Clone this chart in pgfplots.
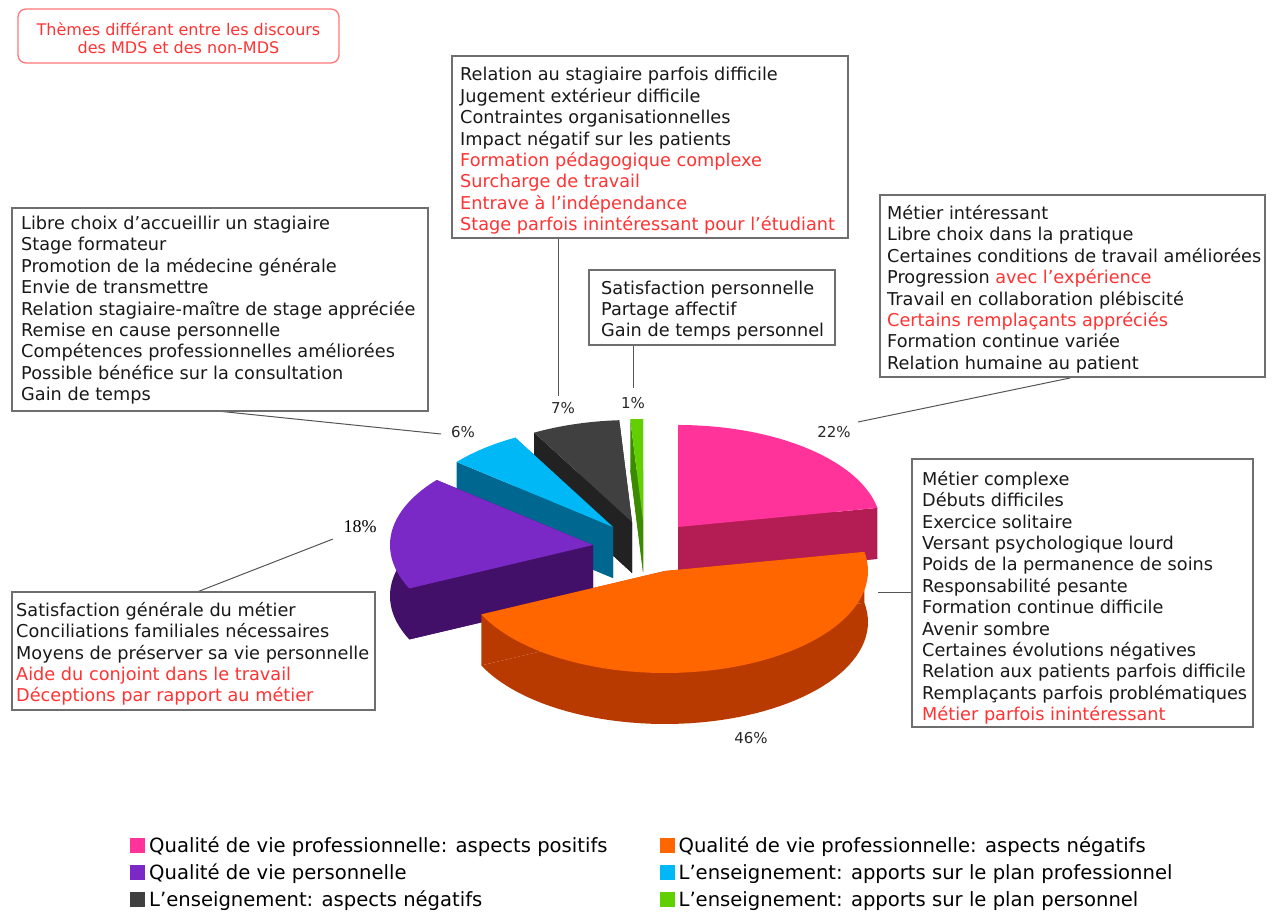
\documentclass[border=0pt]{standalone}
\usepackage{fontspec}
\setmainfont{DejaVu Sans}
\newfontfamily\seriffont{Liberation Serif}
\usepackage{pgfplots}
\pgfplotsset{compat=1.18}

\definecolor{pinkT}{HTML}{FF3399}
\definecolor{pinkS}{HTML}{B41C54}
\definecolor{orangeT}{HTML}{FF6600}
\definecolor{orangeS}{HTML}{B83A00}
\definecolor{purpleT}{HTML}{7A28C6}
\definecolor{purpleS}{HTML}{421068}
\definecolor{blueT}{HTML}{00B8F5}
\definecolor{blueS}{HTML}{006890}
\definecolor{greyT}{HTML}{404040}
\definecolor{greyS}{HTML}{222222}
\definecolor{greenT}{HTML}{62D000}
\definecolor{greenS}{HTML}{3C8A00}
\definecolor{redtxt}{HTML}{FF3333}
\definecolor{titlered}{HTML}{FF7777}
\definecolor{boxgray}{HTML}{6E6E6E}
\definecolor{leadgray}{HTML}{555555}

\tikzset{
  box/.style={draw=boxgray, line width=1.3pt, fill=white},
  txt/.style={anchor=north west, inner sep=0pt, align=left, text=black!90,
    font=\fontsize{17.7}{21.4}\selectfont},
  lead/.style={draw=leadgray, line width=1pt},
  pct/.style={font=\fontsize{15}{15}\selectfont, text=black!85},
}

% pie geometry (pt): radii of the ellipse and thickness
\def\pieR{203}
\def\pier{102}
\def\pieh{51}

% #1 percent, #2 cumulated percent before, #3,#4 apex, #5 top colour, #6 side colour
\newcommand\slice[6]{%
  \addplot[fill=#6, draw=none, forget plot, domain=0:1, samples=61, variable=\s]
    ({#3+\pieR*cos(90-3.6*(#2+#1*\s))}, {#4-\pieh+\pier*sin(90-3.6*(#2+#1*\s))})
    -- (axis cs:#3,{#4-\pieh}) -- cycle;
  \addplot[fill=#6, draw=none, forget plot, domain=0:1, samples=2, variable=\s]
    ({#3+\s*\pieR*cos(90-3.6*(#2))}, {#4+\s*\pier*sin(90-3.6*(#2))})
    -- (axis cs:{#3+\pieR*cos(90-3.6*(#2))},{#4-\pieh+\pier*sin(90-3.6*(#2))})
    -- (axis cs:#3,{#4-\pieh}) -- cycle;
  \addplot[fill=#6, draw=none, forget plot, domain=0:1, samples=2, variable=\s]
    ({#3+\s*\pieR*cos(90-3.6*(#2+#1))}, {#4+\s*\pier*sin(90-3.6*(#2+#1))})
    -- (axis cs:{#3+\pieR*cos(90-3.6*(#2+#1))},{#4-\pieh+\pier*sin(90-3.6*(#2+#1))})
    -- (axis cs:#3,{#4-\pieh}) -- cycle;
  \addplot[fill=#5, draw=none, forget plot, domain=0:1, samples=61, variable=\s]
    ({#3+\pieR*cos(90-3.6*(#2+#1*\s))}, {#4+\pier*sin(90-3.6*(#2+#1*\s))})
    -- (axis cs:#3,#4) -- cycle;
}
\newcommand\rl[1]{\textcolor{redtxt}{#1}}

\begin{document}
\begin{tikzpicture}
\begin{axis}[
  width=1274pt, height=911pt, scale only axis,
  xmin=0, xmax=1274, ymin=0, ymax=911,
  hide axis, clip=false,
  legend columns=2,
  legend cell align=left,
  legend image code/.code={\fill[#1] (0pt,-5.5pt) rectangle (15pt,9.5pt);},
  legend style={at={(axis cs:130,74)}, anchor=north west, draw=none, fill=none,
    inner sep=0pt, font=\fontsize{19.6}{23}\selectfont, row sep=7pt,
    nodes={inner sep=0pt, text height=15pt, text depth=5pt},
    /tikz/every odd column/.append style={column sep=4pt},
    /tikz/every even column/.append style={column sep=52pt}},
]
% slices, back to front: percent, cumulated percent, apex
\slice{1}{99}{643}{390}{greenT}{greenS}
\slice{7}{92}{632}{389}{greyT}{greyS}
\slice{6}{86}{613}{384}{blueT}{blueS}
\slice{22}{0}{678}{384}{pinkT}{pinkS}
\slice{18}{68}{593}{366}{purpleT}{purpleS}
\slice{46}{22}{665}{340}{orangeT}{orangeS}

\addlegendimage{fill=pinkT, draw=none}
\addlegendentry{Qualité de vie professionnelle: aspects positifs}
\addlegendimage{fill=orangeT, draw=none}
\addlegendentry{Qualité de vie professionnelle: aspects négatifs}
\addlegendimage{fill=purpleT, draw=none}
\addlegendentry{Qualité de vie personnelle}
\addlegendimage{fill=blueT, draw=none}
\addlegendentry{L'enseignement: apports sur le plan professionnel}
\addlegendimage{fill=greyT, draw=none}
\addlegendentry{L'enseignement: aspects négatifs}
\addlegendimage{fill=greenT, draw=none}
\addlegendentry{L'enseignement: apports sur le plan personnel}

% leader lines
\draw[lead] (axis cs:1070,533) -- (axis cs:858,489);
\draw[lead] (axis cs:217,500) -- (axis cs:441,477);
\draw[lead] (axis cs:558,674) -- (axis cs:558,515);
\draw[lead] (axis cs:633,566) -- (axis cs:633,523);
\draw[lead] (axis cs:333,372) -- (axis cs:197,319);
\draw[lead] (axis cs:878,318) -- (axis cs:911,318);

% percentages
\node[pct] at (axis cs:834,479) {22\%};
\node[pct] at (axis cs:751,173) {46\%};
\node[pct] at (axis cs:463,479) {6\%};
\node[pct] at (axis cs:563,503) {7\%};
\node[pct] at (axis cs:633,508) {1\%};
\node[font=\seriffont\fontsize{18}{18}\selectfont] at (axis cs:360,384) {18\%};

% title box
\draw[rounded corners=8pt, draw=titlered, line width=1.3pt, fill=white]
  (axis cs:18,902) rectangle (axis cs:339,848);
\node[align=center, text=redtxt, font=\fontsize{16}{17.5}\selectfont]
  at (axis cs:178.5,873) {Thèmes différant entre les discours\\des MDS et des non-MDS};

% top middle box
\draw[box] (axis cs:452,855) rectangle (axis cs:848,673);
\node[txt] at (axis cs:460,846.3) {\rule{0pt}{16pt}Relation au stagiaire parfois difficile\\
Jugement extérieur difficile\\
Contraintes organisationnelles\\
Impact négatif sur les patients\\
\rl{Formation pédagogique complexe}\\
\rl{Surcharge de travail}\\
\rl{Entrave à l’indépendance}\\
\rl{Stage parfois inintéressant pour l’étudiant}};

% left box
\draw[box] (axis cs:12,703) rectangle (axis cs:428,500);
\node[txt] at (axis cs:21,697.7) {\rule{0pt}{16pt}Libre choix d’accueillir un stagiaire\\
Stage formateur\\
Promotion de la médecine générale\\
Envie de transmettre\\
Relation stagiaire-maître de stage appréciée\\
Remise en cause personnelle\\
Compétences professionnelles améliorées\\
Possible bénéfice sur la consultation\\
Gain de temps};

% small box
\draw[box] (axis cs:589,641) rectangle (axis cs:835,566);
\node[txt] at (axis cs:601,633) {\rule{0pt}{16pt}Satisfaction personnelle\\
Partage affectif\\
Gain de temps personnel};

% right box
\draw[box] (axis cs:880,716) rectangle (axis cs:1265,534);
\node[txt] at (axis cs:887,707.7) {\rule{0pt}{16pt}Métier intéressant\\
Libre choix dans la pratique\\
Certaines conditions de travail améliorées\\
Progression \rl{avec l’expérience}\\
Travail en collaboration plébiscité\\
\rl{Certains remplaçants appréciés}\\
Formation continue variée\\
Relation humaine au patient};

% right middle box
\draw[box] (axis cs:912,452) rectangle (axis cs:1253,184);
\node[txt] at (axis cs:922,442) {\rule{0pt}{16pt}Métier complexe\\
Débuts difficiles\\
Exercice solitaire\\
Versant psychologique lourd\\
Poids de la permanence de soins\\
Responsabilité pesante\\
Formation continue difficile\\
Avenir sombre\\
Certaines évolutions négatives\\
Relation aux patients parfois difficile\\
Remplaçants parfois problématiques\\
\rl{Métier parfois inintéressant}};

% bottom left box
\draw[box] (axis cs:12,319) rectangle (axis cs:375,201);
\node[txt] at (axis cs:16,311) {\rule{0pt}{16pt}Satisfaction générale du métier\\
Conciliations familiales nécessaires\\
Moyens de préserver sa vie personnelle\\
\rl{Aide du conjoint dans le travail}\\
\rl{Déceptions par rapport au métier}};
\end{axis}
\pgfresetboundingbox
\path[use as bounding box] (current axis.south west) rectangle (current axis.north east);
\end{tikzpicture}
\end{document}
